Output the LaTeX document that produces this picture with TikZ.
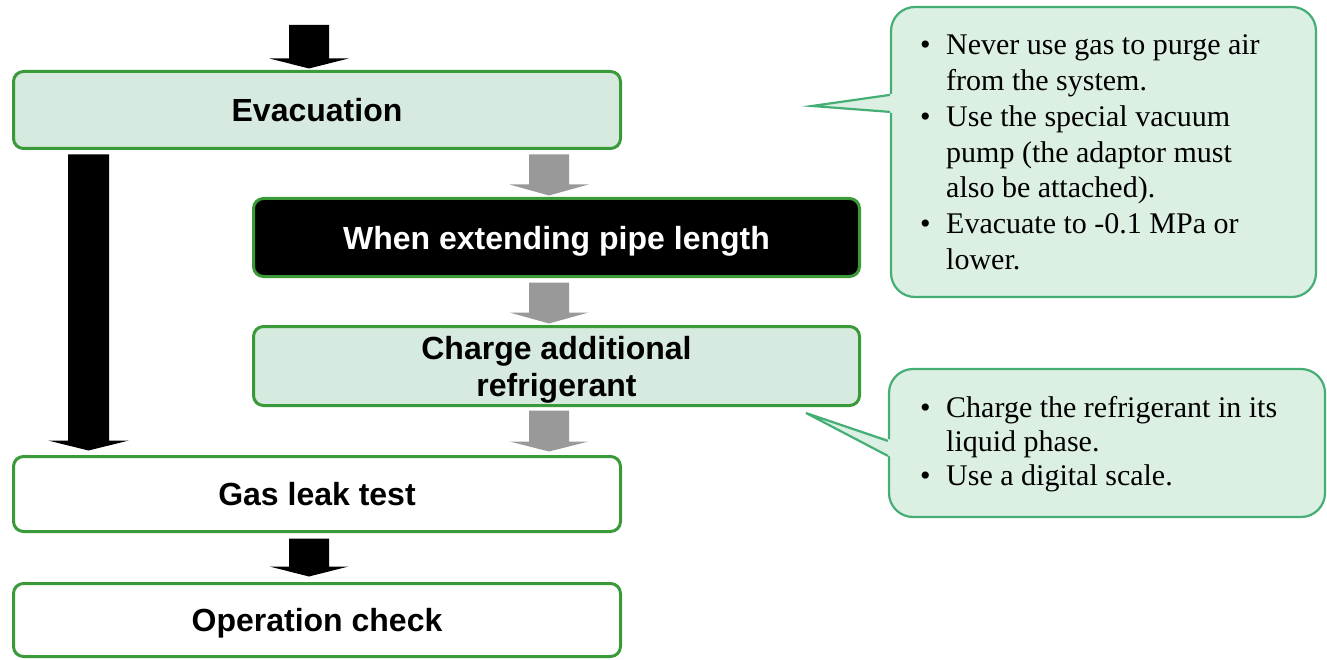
\documentclass[tikz,border=0pt]{standalone}
\usepackage{fontspec}
\setmainfont{Liberation Serif}
\setsansfont{Liberation Sans}
\usetikzlibrary{calc}

\definecolor{boxgreen}{HTML}{3A9A3A}
\definecolor{boxfill}{HTML}{D6EADF}
\definecolor{notefill}{HTML}{DCEFE3}
\definecolor{noteline}{HTML}{45AE75}
\definecolor{arrowgray}{HTML}{999999}

% Block arrow: colour, x centre, shaft half width, head half width,
% head length, start point (shaft top), tip point
\newcommand{\blockarrow}[7]{%
  \fill[#1] let \p1=#6, \p2=#7 in
    (#2pt-#3pt,\y1) -- (#2pt+#3pt,\y1) -- (#2pt+#3pt,\y2+#5pt)
    -- (#2pt+#4pt,\y2+#5pt) -- (#2pt,\y2) -- (#2pt-#4pt,\y2+#5pt)
    -- (#2pt-#3pt,\y2+#5pt) -- cycle;}

\begin{document}
\begin{tikzpicture}[x=1pt,y=-1pt,
  stepbox/.style={draw=boxgreen, line width=3pt, rounded corners=10pt,
    minimum width=607pt, inner sep=0pt, text depth=0pt,
    font=\sffamily\bfseries\fontsize{32}{37}\selectfont, align=center},
  notebox/.style={draw=noteline, fill=notefill, line width=2.2pt,
    rounded corners=24pt, inner sep=0pt},
  notetext/.style={inner sep=0pt, anchor=base west}]

\useasboundingbox (0,0) rectangle (1327,660);

% process steps
\node[stepbox, fill=boxfill, minimum height=77pt] (evac) at (317,110) {Evacuation};
\node[stepbox, fill=black, text=white, minimum width=606pt, minimum height=78pt]
  (ext) at (556.5,237.5) {When extending pipe length};
\node[stepbox, fill=boxfill, minimum width=606pt, minimum height=79pt]
  (charge) at (556.5,366) {Charge additional\\refrigerant};
\node[stepbox, fill=white, minimum height=75pt] (leak) at (317,494) {Gas leak test};
\node[stepbox, fill=white, minimum height=73pt] (oper) at (317,620) {Operation check};

% flow arrows
\coordinate (entry) at (309,25);
\blockarrow{black}{309}{20}{39.5}{10}{(entry)}{([yshift=1.5pt]evac.north)}
\blockarrow{black}{88.5}{20.5}{40.5}{10}{([yshift=-4.5pt]evac.south)}{([yshift=4.5pt]leak.north)}
\blockarrow{arrowgray}{549}{20}{39.5}{11}{([yshift=-4.5pt]evac.south)}{([yshift=1.5pt]ext.north)}
\blockarrow{arrowgray}{549}{20}{39.5}{11}{([yshift=-4.5pt]ext.south)}{([yshift=1.5pt]charge.north)}
\blockarrow{arrowgray}{549}{20}{39.5}{10}{([yshift=-3.5pt]charge.south)}{([yshift=3.5pt]leak.north)}
\blockarrow{black}{309}{20}{39.5}{10}{([yshift=-5.5pt]leak.south)}{([yshift=5.5pt]oper.north)}

% evacuation notes
\node[notebox, minimum width=425pt, minimum height=290pt] (note1) at (1103.5,152) {};
\coordinate (tip1) at (812,106);
\fill[notefill] ($(note1.north west)+(3,88)$) -- (tip1) -- ($(note1.north west)+(3,107)$) -- cycle;
\draw[noteline, line width=2.2pt] ($(note1.north west)+(0,89)$) -- (tip1) -- ($(note1.north west)+(0,106)$);
\node[notetext, font=\fontsize{30}{35.7}\selectfont] (note1text) at (920,55) {%
  \begin{tabular}[t]{@{}p{26pt}@{}l@{}}
  \textbullet & Never use gas to purge air\\
   & from the system.\\
  \textbullet & Use the special vacuum\\
   & pump (the adaptor must\\
   & also be attached).\\
  \textbullet & Evacuate to -0.1 MPa or\\
   & lower.
  \end{tabular}};

% charging notes
\node[notebox, minimum width=436pt, minimum height=148pt] (note2) at (1107,443) {};
\coordinate (tip2) at (806,413);
\fill[notefill] ($(note2.north west)+(3,72)$) -- (tip2) -- ($(note2.north west)+(3,89)$) -- cycle;
\draw[noteline, line width=2.2pt] ($(note2.north west)+(0,73)$) -- (tip2) -- ($(note2.north west)+(0,88)$);
\node[notetext, font=\fontsize{30}{34}\selectfont] (note2text) at (920,417) {%
  \begin{tabular}[t]{@{}p{26pt}@{}l@{}}
  \textbullet & Charge the refrigerant in its\\
   & liquid phase.\\
  \textbullet & Use a digital scale.
  \end{tabular}};

\end{tikzpicture}
\end{document}
